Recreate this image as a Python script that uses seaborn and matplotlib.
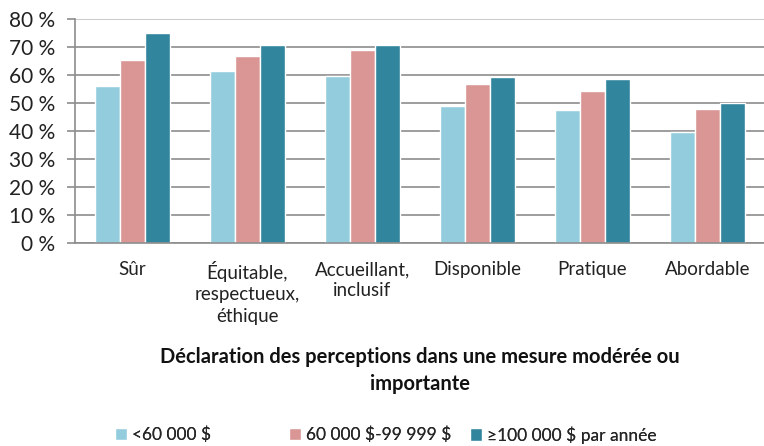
import pandas as pd
import numpy as np
import matplotlib
matplotlib.use("Agg")
import matplotlib.pyplot as plt
import seaborn as sns

# categories and income groups
categories = ["Sûr", "Équitable,\nrespectueux,\néthique", "Accueillant,\ninclusif",
              "Disponible", "Pratique", "Abordable"]
groups = ["<60 000 $", "60 000 $-99 999 $", "≥100 000 $ par année"]

# values (%)
low_income = [56.1, 61.4, 59.6, 49.0, 47.6, 39.6]
mid_income = [65.4, 66.8, 68.9, 57.0, 54.5, 48.0]
high_income = [75.0, 70.7, 70.7, 59.3, 58.6, 50.1]

colors = ["#93CDDD", "#D99694", "#31859C"]

# long table for seaborn
df = pd.DataFrame({
    "cat": categories * 3,
    "group": [groups[0]] * 6 + [groups[1]] * 6 + [groups[2]] * 6,
    "value": low_income + mid_income + high_income,
})

sns.set_style("white")
plt.rcParams['font.family'] = ['Lato', 'DejaVu Sans']
plt.rcParams['text.parse_math'] = False  # keep the $ signs literal

fig = plt.figure(figsize=(7.64, 4.46), dpi=100)
ax = fig.add_axes([0.098, 0.455, 0.903, 0.502])

sns.barplot(data=df, x="cat", y="value", hue="group", palette=colors,
            width=0.65, saturation=1, ax=ax, legend=True, errorbar=None)

ax.set_ylim(0, 80)
ax.set_xlim(-0.5, 5.5)
ax.set_yticks(range(0, 81, 10))
ax.set_yticklabels([f"{v} %" for v in range(0, 81, 10)], fontsize=15, color="#222222")
ax.yaxis.grid(True, color="#8c8c8c", linewidth=1.2)
ax.set_axisbelow(True)
gl = ax.get_ygridlines()
gl[-1].set_color("#c0c0c0")

# tick labels at centers, tick marks between groups
ax.set_xticks(range(6))
ax.set_xticklabels(categories, fontsize=13.5, color="#222222", linespacing=1.3)
ax.set_xticks(np.arange(-0.5, 6, 1), minor=True)
ax.tick_params(axis="x", which="major", length=0, pad=13)
ax.tick_params(axis="x", which="minor", length=6, color="#8c8c8c", width=1.2)
ax.tick_params(axis="y", length=6, color="#8c8c8c", width=1.2, left=True, pad=8)

for s in ["top", "right"]:
    ax.spines[s].set_visible(False)
for s in ["left", "bottom"]:
    ax.spines[s].set_color("#8c8c8c")
    ax.spines[s].set_linewidth(1.2)

ax.set_ylabel("")
ax.set_xlabel("Déclaration des perceptions dans une mesure modérée ou\nimportante",
              fontsize=14.5, fontweight="bold", labelpad=16, linespacing=1.45, color="#111111")

# legend: one entry per slot, spaced like the original
handles, labels = ax.get_legend_handles_labels()
ax.get_legend().remove()
legend_x = [0.15, 0.378, 0.615]
for h, l, x in zip(handles, labels, legend_x):
    leg = fig.legend([h], [l], loc="center left", bbox_to_anchor=(x, 0.025),
                     frameon=False, fontsize=12.5, handlelength=0.7, handleheight=0.7,
                     handletextpad=0.3, borderpad=0, borderaxespad=0)
    fig.add_artist(leg)

fig.savefig("out.png", dpi=100)
